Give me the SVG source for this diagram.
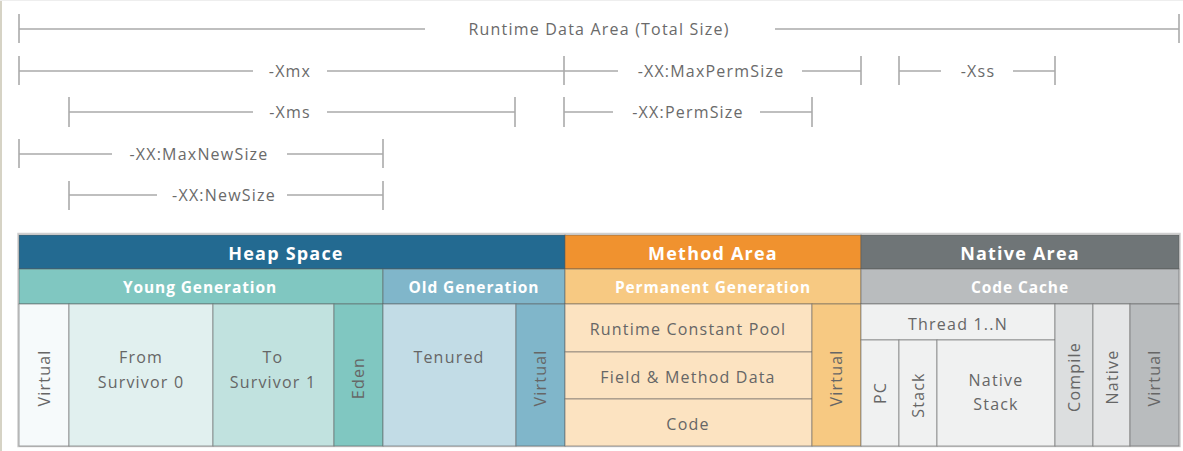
<svg xmlns="http://www.w3.org/2000/svg" width="1183" height="451" viewBox="0 0 1183 451">
<style>
.dim line{stroke:#aaaaaa;stroke-width:1.6}
.lbl{font-family:"Open Sans","Liberation Sans",sans-serif;font-size:16px;fill:#6a6a6a;text-anchor:middle;letter-spacing:1.2px}
.hd{font-family:"Open Sans","Liberation Sans",sans-serif;font-weight:bold;fill:#ffffff;text-anchor:middle}
.h1{font-size:18px;letter-spacing:1.2px}
.h2{font-size:15.5px;letter-spacing:0.9px}
.cell{stroke:#5a5a5a;stroke-opacity:0.55;stroke-width:1}
.t{font-family:"Open Sans","Liberation Sans",sans-serif;font-size:16px;fill:#666666;text-anchor:middle;letter-spacing:1.2px}
.v{dominant-baseline:central}
</style>
<rect x="0" y="0" width="1183" height="451" fill="#ffffff"/>
<rect x="0" y="0" width="2" height="451" fill="#d6d3c5"/>
<line x1="0" y1="0.5" x2="1183" y2="0.5" stroke="#eeeeee"/>

<g id="connectors" class="dim">
  <line x1="19" y1="29" x2="425" y2="29"/><line x1="775" y1="29" x2="1179" y2="29"/>
  <line x1="19" y1="14" x2="19" y2="43"/><line x1="1179" y1="14" x2="1179" y2="43"/>

  <line x1="19" y1="71" x2="253" y2="71"/><line x1="327" y1="71" x2="564" y2="71"/>
  <line x1="19" y1="56" x2="19" y2="85"/><line x1="564" y1="56" x2="564" y2="85"/>
  <line x1="564" y1="71" x2="618" y2="71"/><line x1="802" y1="71" x2="861" y2="71"/>
  <line x1="861" y1="56" x2="861" y2="85"/>
  <line x1="899" y1="71" x2="941" y2="71"/><line x1="1013" y1="71" x2="1055" y2="71"/>
  <line x1="899" y1="56" x2="899" y2="85"/><line x1="1055" y1="56" x2="1055" y2="85"/>

  <line x1="69" y1="112" x2="253" y2="112"/><line x1="327" y1="112" x2="515" y2="112"/>
  <line x1="69" y1="97" x2="69" y2="127"/><line x1="515" y1="97" x2="515" y2="127"/>
  <line x1="564" y1="112" x2="613" y2="112"/><line x1="760" y1="112" x2="812" y2="112"/>
  <line x1="564" y1="97" x2="564" y2="127"/><line x1="812" y1="97" x2="812" y2="127"/>

  <line x1="19" y1="154" x2="112" y2="154"/><line x1="287" y1="154" x2="383" y2="154"/>
  <line x1="19" y1="139" x2="19" y2="168"/><line x1="383" y1="139" x2="383" y2="168"/>

  <line x1="69" y1="195" x2="157" y2="195"/><line x1="287" y1="195" x2="383" y2="195"/>
  <line x1="69" y1="181" x2="69" y2="210"/><line x1="383" y1="181" x2="383" y2="210"/>
</g>

<g id="dimension-labels">
  <text class="lbl" x="599" y="35">Runtime Data Area (Total Size)</text>
  <text class="lbl" x="290" y="77">-Xmx</text>
  <text class="lbl" x="711" y="77">-XX:MaxPermSize</text>
  <text class="lbl" x="978" y="77">-Xss</text>
  <text class="lbl" x="290" y="118">-Xms</text>
  <text class="lbl" x="688" y="118">-XX:PermSize</text>
  <text class="lbl" x="199" y="160">-XX:MaxNewSize</text>
  <text class="lbl" x="224" y="201">-XX:NewSize</text>
</g>

<rect x="18" y="233.5" width="1162" height="213" fill="none" stroke="#cfcfcf" stroke-width="1.5"/>

<g id="heap-space">
  <rect class="cell" x="19" y="235" width="546" height="34" fill="#236a91"/>
  <text class="hd h1" x="286" y="260">Heap Space</text>
</g>
<g id="method-area">
  <rect class="cell" x="565" y="235" width="296" height="34" fill="#f0922f"/>
  <text class="hd h1" x="713" y="260">Method Area</text>
</g>
<g id="native-area">
  <rect class="cell" x="861" y="235" width="318" height="34" fill="#6f7577"/>
  <text class="hd h1" x="1020" y="260">Native Area</text>
</g>

<g id="young-generation">
  <rect class="cell" x="19" y="269" width="364" height="35" fill="#80c7c1"/>
  <text class="hd h2" x="200" y="293">Young Generation</text>
</g>
<g id="old-generation">
  <rect class="cell" x="383" y="269" width="182" height="35" fill="#80b6ca"/>
  <text class="hd h2" x="474" y="293">Old Generation</text>
</g>
<g id="permanent-generation">
  <rect class="cell" x="565" y="269" width="296" height="35" fill="#f7c982"/>
  <text class="hd h2" x="713" y="293">Permanent Generation</text>
</g>
<g id="code-cache">
  <rect class="cell" x="861" y="269" width="318" height="35" fill="#b9bcbe"/>
  <text class="hd h2" x="1020" y="293">Code Cache</text>
</g>

<g id="young-virtual">
  <rect class="cell" x="19" y="304" width="50" height="142" fill="#f6fafb"/>
  <text class="t v" transform="translate(44,378) rotate(-90)">Virtual</text>
</g>
<g id="from-survivor">
  <rect class="cell" x="69" y="304" width="144" height="142" fill="#e1f0ef"/>
  <text class="t" x="141" y="363">From</text>
  <text class="t" x="141" y="388">Survivor 0</text>
</g>
<g id="to-survivor">
  <rect class="cell" x="213" y="304" width="121" height="142" fill="#c1e2df"/>
  <text class="t" x="273" y="363">To</text>
  <text class="t" x="273" y="388">Survivor 1</text>
</g>
<g id="eden">
  <rect class="cell" x="334" y="304" width="49" height="142" fill="#80c7c1"/>
  <text class="t v" transform="translate(358,378) rotate(-90)">Eden</text>
</g>
<g id="tenured">
  <rect class="cell" x="383" y="304" width="133" height="142" fill="#c2dce6"/>
  <text class="t" x="449" y="363">Tenured</text>
</g>
<g id="old-virtual">
  <rect class="cell" x="516" y="304" width="49" height="142" fill="#80b6ca"/>
  <text class="t v" transform="translate(540,378) rotate(-90)">Virtual</text>
</g>
<g id="runtime-constant-pool">
  <rect class="cell" x="565" y="304" width="247" height="48" fill="#fce3c1"/>
  <text class="t" x="688" y="335">Runtime Constant Pool</text>
</g>
<g id="field-method-data">
  <rect class="cell" x="565" y="352" width="247" height="47" fill="#fce3c1"/>
  <text class="t" x="688" y="383">Field &amp; Method Data</text>
</g>
<g id="code">
  <rect class="cell" x="565" y="399" width="247" height="47" fill="#fce3c1"/>
  <text class="t" x="688" y="430">Code</text>
</g>
<g id="perm-virtual">
  <rect class="cell" x="812" y="304" width="49" height="142" fill="#f7c982"/>
  <text class="t v" transform="translate(836,378) rotate(-90)">Virtual</text>
</g>
<g id="thread">
  <rect class="cell" x="861" y="304" width="194" height="36" fill="#f0f1f1"/>
  <text class="t" x="958" y="330">Thread 1..N</text>
</g>
<g id="pc">
  <rect class="cell" x="861" y="340" width="38" height="106" fill="#f0f1f1"/>
  <text class="t v" transform="translate(880,393) rotate(-90)">PC</text>
</g>
<g id="stack">
  <rect class="cell" x="899" y="340" width="38" height="106" fill="#f0f1f1"/>
  <text class="t v" transform="translate(918,395) rotate(-90)">Stack</text>
</g>
<g id="native-stack">
  <rect class="cell" x="937" y="340" width="118" height="106" fill="#f0f1f1"/>
  <text class="t" x="996" y="386">Native</text>
  <text class="t" x="996" y="410">Stack</text>
</g>
<g id="compile">
  <rect class="cell" x="1055" y="304" width="38" height="142" fill="#dcdedf"/>
  <text class="t v" transform="translate(1074,377) rotate(-90)">Compile</text>
</g>
<g id="native">
  <rect class="cell" x="1093" y="304" width="37" height="142" fill="#e5e6e7"/>
  <text class="t v" transform="translate(1112,377) rotate(-90)">Native</text>
</g>
<g id="native-virtual">
  <rect class="cell" x="1130" y="304" width="49" height="142" fill="#b9bcbe"/>
  <text class="t v" transform="translate(1154,378) rotate(-90)">Virtual</text>
</g>
</svg>
